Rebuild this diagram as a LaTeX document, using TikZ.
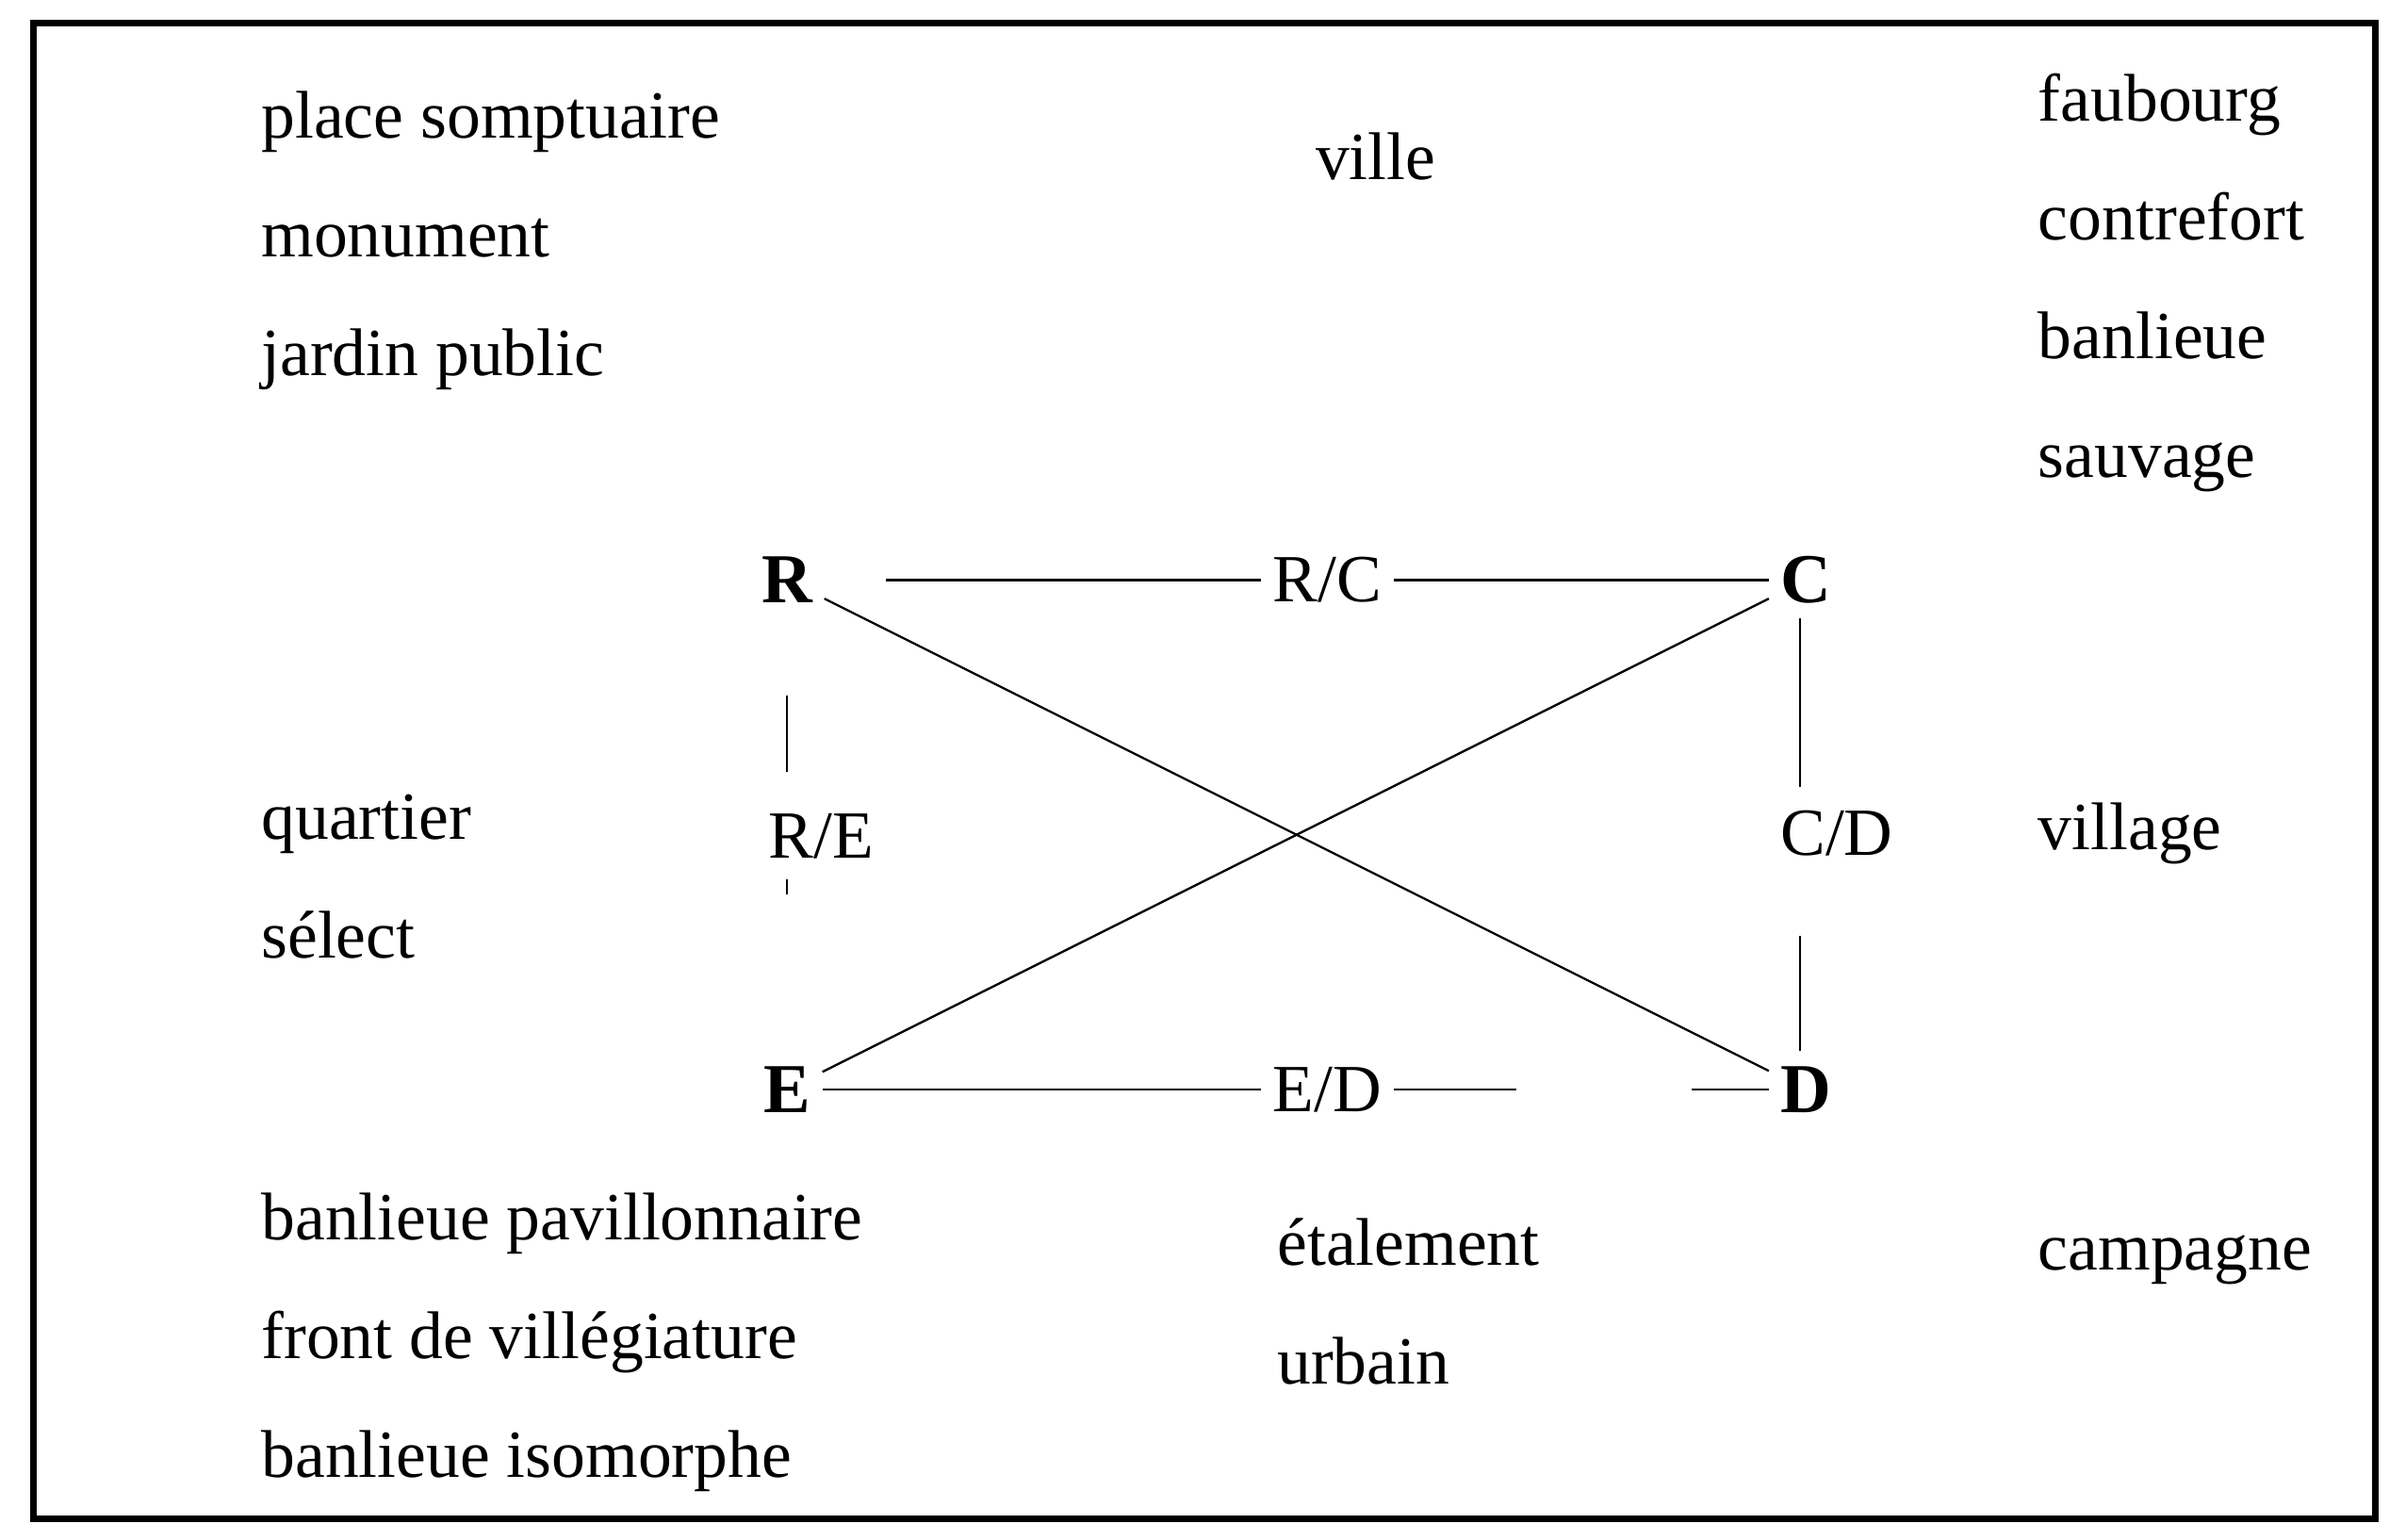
\documentclass[tikz,border=0pt]{standalone}
\usepackage{fontspec}
\setmainfont{Liberation Serif}
\usetikzlibrary{positioning}

\begin{document}
\begin{tikzpicture}[x=0.01cm,y=-0.01cm,
		word/.style={anchor=west,align=left,font=\fontsize{12.5}{22}\selectfont},
		pole/.style={font=\fontsize{13}{15}\selectfont\bfseries,inner sep=2pt},
		pair/.style={font=\fontsize{12.5}{15}\selectfont,inner sep=2pt}]
			\useasboundingbox (0,0) rectangle (1568,1003);
			\draw[line width=1.2pt] (22,15) rectangle (1548,990);
			
			% poles
			\node[pole] (R) at (513,378) {R};
			\node[pole] (C) at (1177,378) {C};
			\node[pole] (E) at (513,710) {E};
			\node[pole] (D) at (1177,710) {D};
			
			% pairs
			\node[pair] (RC) at (865,378) {R/C};
			\node[pair] (RE) at (535,545) {R/E};
			\node[pair] (CD) at (1197,543) {C/D};
			\node[pair] (ED) at (865,710) {E/D};
			
			\draw (R.east) ++(40,0) -- (RC.west);
			\draw (RC) -- (C);
			\draw (R) ++(0,75) -- ++(0,50);
			\draw (R) ++(0,195) -- ++(0,10);
			\draw (E) -- (ED);
			\draw (ED.east) -- ++(80,0);
			\draw (D.west) -- ++(-50,0);
			\draw (C) ++(-4,25) -- ++(0,110);
			\draw (D) ++(-4,-25) -- ++(0,-75);
			\draw (R) -- (D);
			\draw (C) -- (E);
			
			% labels
			\node[word] (ul) at (158,157) {place somptuaire\\monument\\jardin public};
			\node[word] (um) at (845,102) {ville};
			\node[word] (ur) at (1316,184) {faubourg\\contrefort\\banlieue\\sauvage};
			\node[word] (ml) at (158,571) {quartier\\sélect};
			\node[word] (mr) at (1316,543) {village};
			\node[word] (ll) at (158,875) {banlieue pavillonnaire\\front de villégiature\\banlieue isomorphe};
			\node[word] (lm) at (820,848) {étalement\\urbain};
			\node[word] (lr) at (1316,821) {campagne};
		\end{tikzpicture}
\end{document}
